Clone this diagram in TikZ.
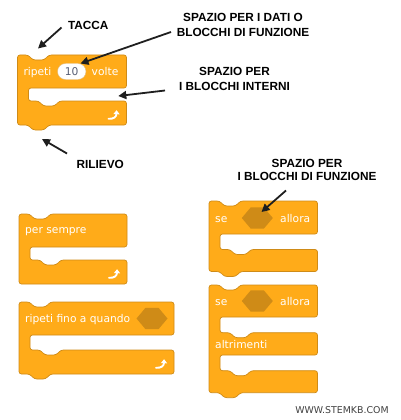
\documentclass[tikz,border=0pt]{standalone}
\usepackage{fontspec}
\newfontfamily\blockfont{DejaVu Sans}
\newfontfamily\labelfont{Liberation Sans}
\usetikzlibrary{arrows.meta}
\definecolor{ctrl}{HTML}{FFAB19}
\definecolor{ctrlborder}{HTML}{CF8B17}
\definecolor{hexfill}{HTML}{CF8B17}
\definecolor{inputtext}{HTML}{575E75}
\definecolor{wmark}{HTML}{404040}
% C-block: #1 L, #2 R, #3 T, #4 arm bottom, #5 mouth bottom, #6 B, #7 tab depth
\newcommand\cblock[7]{%
  \draw[blk] (#1,#3) -- ({#1+10.5},#3) -- ({#1+15.5},{#3+5}) -- ({#1+26.5},{#3+5}) -- ({#1+31.5},#3)
    -- (#2,#3) -- (#2,#4) -- ({#1+11},#4) -- ({#1+11},#5)
    -- ({#1+21},#5) -- ({#1+26},{#5+5}) -- ({#1+37},{#5+5}) -- ({#1+42},#5)
    -- (#2,#5) -- (#2,#6)
    -- ({#1+31.5},#6) -- ({#1+26.5},{#6+#7}) -- ({#1+15.5},{#6+#7}) -- ({#1+10.5},#6)
    -- (#1,#6) -- cycle;}
\newcommand\hexat[2]{%
  \fill[hexa] ({#1-15.5},#2) -- ({#1-6.5},{#2-10.7}) -- ({#1+6.5},{#2-10.7}) -- ({#1+15.5},#2)
    -- ({#1+6.5},{#2+10.7}) -- ({#1-6.5},{#2+10.7}) -- cycle;}
\newcommand\loopat[2]{%
  \draw[loopicon] ({#1-5.5},{#2+3.8}) .. controls ({#1-0.5},{#2+4.2}) and ({#1+2.4},{#2+1.8}) .. ({#1+2.6},{#2-4.8});}
\begin{document}
\begin{tikzpicture}[x=1pt,y=-1pt,
  blk/.style={fill=ctrl, draw=ctrlborder, line width=0.7pt, rounded corners=2.5pt, line join=round},
  btxt/.style={font=\blockfont\fontsize{10.7}{12}\selectfont, text=white, inner sep=0pt, anchor=base west},
  lbl/.style={font=\labelfont\bfseries\fontsize{11.8}{15}\selectfont, align=center, inner sep=0pt, text=black},
  pointer/.style={draw=black!88, line width=1.8pt, -{Triangle[length=8pt,width=8pt]}},
  hexa/.style={fill=hexfill, draw=none},
  loopicon/.style={draw=white, line width=1.9pt, line cap=round, -{Triangle[length=4pt,width=6pt]}}]
\fill[white] (0,0) rectangle (400,420);
\useasboundingbox (0,0) rectangle (400,420);

% ---- block 1: ripeti 10 volte
\cblock{17.5}{126.5}{55}{88}{101}{125}{5}
\node[btxt] (r1) at (23.3,75.3) {ripeti};
\draw[fill=white, draw=ctrlborder!60, line width=0.4pt, rounded corners=8pt] (57.5,63.5) rectangle (86,79.5);
\node[font=\blockfont\fontsize{10.7}{12}\selectfont, text=inputtext, inner sep=0pt, anchor=base] (n10) at (71.7,75.3) {10};
\node[btxt] (v1) at (91.5,75.3) {volte};
\loopat{114}{115}

% ---- block 2: per sempre
\cblock{19}{127}{214}{247}{260}{284}{0}
\node[btxt] (ps) at (25,233.5) {per sempre};
\loopat{114.5}{274}

% ---- block 3: ripeti fino a quando
\cblock{19}{174}{302}{335}{350}{374}{5}
\node[btxt] (rf) at (25,322.5) {ripeti fino a quando};
\hexat{152}{318.5}
\loopat{161.5}{364}

% ---- block 4: se allora
\cblock{209}{317.5}{201}{234}{249.5}{271.5}{5}
\node[btxt] (se1) at (215,222) {se};
\hexat{257.3}{218}
\node[btxt] (al1) at (280,222) {allora};

% ---- block 5: se allora altrimenti
\draw[blk] (209,285) -- (219.5,285) -- (224.5,290) -- (235.5,290) -- (240.5,285)
  -- (317.5,285) -- (317.5,317) -- (220,317) -- (220,332.7)
  -- (230,332.7) -- (235,337.7) -- (246,337.7) -- (251,332.7)
  -- (317.5,332.7) -- (317.5,355) -- (220,355) -- (220,370.7)
  -- (230,370.7) -- (235,375.7) -- (246,375.7) -- (251,370.7)
  -- (317.5,370.7) -- (317.5,392.7)
  -- (240.5,392.7) -- (235.5,397.7) -- (224.5,397.7) -- (219.5,392.7)
  -- (209,392.7) -- cycle;
\node[btxt] (se2) at (215,305) {se};
\hexat{257.3}{301}
\node[btxt] (al2) at (280,305) {allora};
\node[btxt] (alt) at (215,348) {altrimenti};

% ---- labels
\node[lbl] (tacca) at (88.3,25) {TACCA};
\node[lbl] (dati) at (243,24.8) {SPAZIO PER I DATI O\\BLOCCHI DI FUNZIONE};
\node[lbl, font=\labelfont\bfseries\fontsize{11.8}{14.3}\selectfont] (interni) at (234.5,78.9) {SPAZIO PER\\I BLOCCHI INTERNI};
\node[lbl] (rilievo) at (100.3,164.3) {RILIEVO};
\node[lbl, font=\labelfont\bfseries\fontsize{11.8}{12.7}\selectfont] (funz) at (307,169.7) {SPAZIO PER\\I BLOCCHI DI FUNZIONE};

% ---- pointers
\coordinate (p1s) at (61.5,27.5);  \coordinate (p1e) at (38,48.5);
\coordinate (p2s) at (171,32);     \coordinate (p2e) at (80.5,63.5);
\coordinate (p3s) at (165,90.5);   \coordinate (p3e) at (118.3,96);
\coordinate (p4s) at (67,153.5);   \coordinate (p4e) at (42,139);
\coordinate (p5s) at (286,190.5);  \coordinate (p5e) at (261.5,212);
\draw[pointer] (p1s) -- (p1e);
\draw[pointer] (p2s) -- (p2e);
\draw[pointer] (p3s) -- (p3e);
\draw[pointer] (p4s) -- (p4e);
\draw[pointer] (p5s) -- (p5e);

% ---- watermark
\node[font=\blockfont\fontsize{9.4}{11}\selectfont, text=wmark, inner sep=0pt] (wm) at (342,410) {WWW.STEMKB.COM};
\end{tikzpicture}
\end{document}
